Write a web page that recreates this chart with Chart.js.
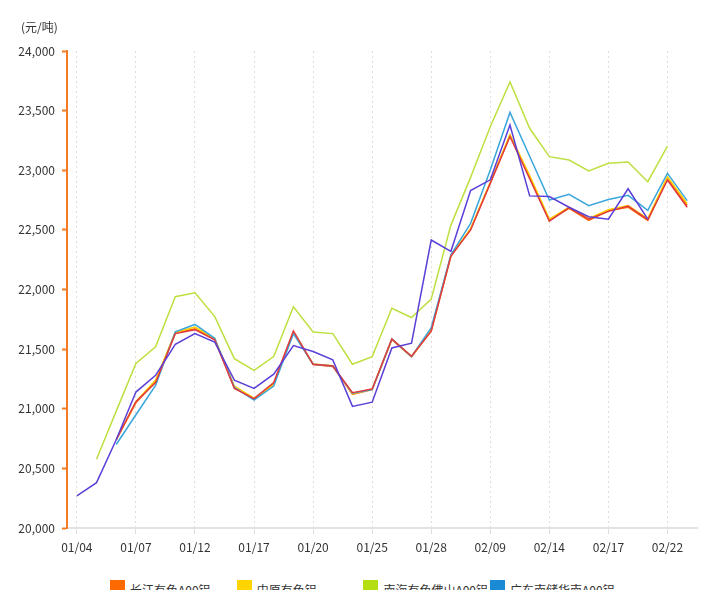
<!DOCTYPE html>
<html>
<head>
<meta charset="utf-8">
<script src="https://cdn.jsdelivr.net/npm/chart.js@4"></script>
<style>
  body { margin: 0; background: #fff; overflow: hidden; font-family: "Noto Sans CJK SC", "Noto Sans", sans-serif; }
  #wrap { position: relative; width: 720px; height: 590px; overflow: hidden; }
  #chart { position: absolute; left: 0; top: 0; }
  #unit { position: absolute; left: 21px; top: 18px; font-size: 12px; color: #333; }
  #legend { position: absolute; left: 110px; top: 580px; width: 510px; display: flex; flex-wrap: wrap; }
  .item { width: 126.7px; height: 24px; display: flex; align-items: flex-start; font-size: 12px; color: #333; }
  .box { width: 15px; height: 15px; margin-right: 5px; flex: none; }
  .txt { line-height: 15px; margin-top: 2px; white-space: nowrap; }
</style>
</head>
<body>
<div id="wrap">
  <canvas id="chart" width="720" height="570"></canvas>
  <div id="unit">(元/吨)</div>
  <div id="legend"></div>
</div>
<script>
// 日期（交易日）
const labels = [
  "01/04", "01/05", "01/06", "01/07", "01/10", "01/11", "01/12", "01/13",
  "01/14", "01/17", "01/18", "01/19", "01/20", "01/21", "01/24", "01/25",
  "01/26", "01/27", "01/28", "02/07", "02/08", "02/09", "02/10", "02/11",
  "02/14", "02/15", "02/16", "02/17", "02/18", "02/21", "02/22", "02/23",
];

const yTicks = { min: 20000, max: 24000, step: 500 };

// 各地铝价（元/吨）
const changjiang = [null, null, 20740, 21050, 21230, 21635, 21670, 21585, 21180, 21080, 21210, 21640, 21370, 21355, 21120, 21160, 21580, 21435, 21655, 22280, 22505, 22895, 23290, 22950, 22580, 22680, 22580, 22660, 22690, 22580, 22930, 22705];
const zhongyuan = [null, null, 20740, 21060, 21240, 21640, 21685, 21590, 21190, 21090, 21200, 21645, 21375, 21360, 21125, 21165, 21585, 21440, 21660, 22285, 22510, 22900, 23300, 22955, 22590, 22690, 22595, 22670, 22705, 22595, 22945, 22720];
const nanhai = [null, 20576, 20980, 21380, 21520, 21940, 21973, 21775, 21420, 21322, 21437, 21856, 21644, 21630, 21373, 21437, 21842, 21765, 21920, 22540, 22940, 23365, 23740, 23352, 23114, 23086, 22994, 23058, 23070, 22904, 23203, null];
const guangdong = [null, null, 20700, 20950, 21195, 21646, 21707, 21591, 21180, 21073, 21190, 21630, 21373, 21358, 21130, 21160, 21585, 21437, 21680, 22290, 22555, 23002, 23485, 23117, 22750, 22798, 22703, 22755, 22790, 22664, 22974, 22745];
const wuxi = [null, null, 20740, 21059, 21220, 21630, 21663, 21578, 21170, 21085, 21220, 21653, 21373, 21358, 21135, 21166, 21585, 21440, 21650, 22280, 22499, 22890, 23283, 22930, 22574, 22686, 22589, 22655, 22700, 22585, 22918, 22690];
const gongyi = [20270, 20380, 20740, 21140, 21280, 21540, 21630, 21560, 21240, 21170, 21290, 21530, 21480, 21410, 21020, 21055, 21510, 21550, 22415, 22320, 22830, 22920, 23380, 22785, 22780, 22690, 22610, 22590, 22845, 22590, null, null];

const seriesNames = ["长江有色A00铝", "中原有色铝", "南海有色佛山A00铝", "广东南储华南A00铝", "无锡南储A00铝", "巩义南储A00铝"];
const seriesData = [changjiang, zhongyuan, nanhai, guangdong, wuxi, gongyi];
const lineColors = ["#ff6a00", "#ffd000", "#bde040", "#3aa6dc", "#e2393f", "#5b3fd8"];
const boxColors = ["#ff6a00", "#ffd400", "#b3df12", "#1a8ad4", "#e2393f", "#5b3fd8"];

// 图例（HTML）
const legend = document.getElementById("legend");
seriesNames.forEach((name, i) => {
  const item = document.createElement("div");
  item.className = "item";
  item.innerHTML = '<span class="box" style="background:' + boxColors[i] + '"></span><span class="txt">' + name + "</span>";
  legend.appendChild(item);
});

const ctx = document.getElementById("chart").getContext("2d");
const font = { family: '"Noto Sans CJK SC", "Noto Sans", sans-serif', size: 12 };

// 后面的系列画在上面
let chart = new Chart(ctx, {
  type: "line",
  data: {
    labels: labels,
    datasets: seriesData.map((data, i) => ({
      label: seriesNames[i],
      data: data,
      order: seriesData.length - i,
      borderColor: lineColors[i],
      backgroundColor: lineColors[i],
      borderWidth: 1.5,
      pointRadius: 0,
      tension: 0,
      fill: false,
    })),
  },
  options: {
    responsive: false,
    animation: false,
    devicePixelRatio: 1,
    layout: { padding: { top: 51, right: 23, left: 0, bottom: 0 } },
    plugins: {
      legend: { display: false },
      tooltip: { enabled: false },
    },
    scales: {
      x: {
        offset: true,
        afterFit: (scale) => { scale.height = 42; },
        border: { display: true, color: "#e3e3e3", width: 2, dash: [2, 3] },
        grid: {
          offset: false,
          color: (c) => (c.index % 3 === 0 ? "#dedede" : "rgba(0,0,0,0)"),
          lineWidth: 1,
          tickLength: 6,
        },
        ticks: {
          autoSkip: false,
          maxRotation: 0,
          padding: 6,
          color: "#333",
          font: font,
          callback: (v, i) => (i % 3 === 0 ? labels[i] : ""),
        },
      },
      y: {
        min: yTicks.min,
        max: yTicks.max,
        afterFit: (scale) => { scale.width = 67; },
        border: { display: true, color: "#f57c22", width: 2 },
        grid: {
          drawOnChartArea: false,
          drawTicks: true,
          tickColor: "#f57c22",
          tickLength: 5,
          tickWidth: 2,
        },
        ticks: {
          stepSize: yTicks.step,
          padding: 7,
          color: "#333",
          font: font,
          callback: (v) => v.toLocaleString("en-US"),
        },
      },
    },
  },
});
</script>
</body>
</html>
